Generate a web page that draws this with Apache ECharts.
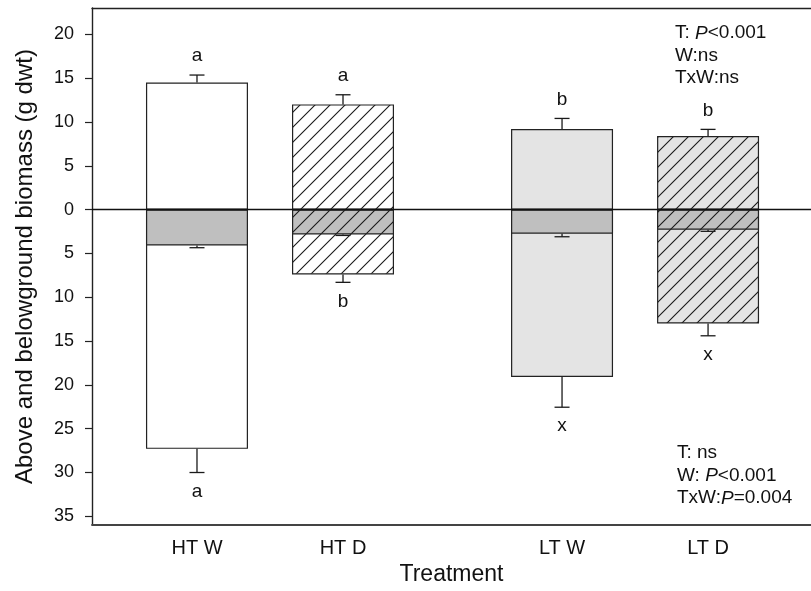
<!DOCTYPE html>
<html>
<head>
<meta charset="utf-8">
<script src="https://cdn.jsdelivr.net/npm/echarts@6/dist/echarts.min.js"></script>
<style>html,body{margin:0;padding:0;background:#fff}#c{width:811px;height:591px}</style>
</head>
<body>
<div id="c"></div>
<script>
// ---- data ----
const categories = ['HT W', 'HT D', 'LT W', 'LT D'];
const xPositions = [1, 2, 3.5, 4.5];
const aboveMean = [14.5, 12.0, 9.2, 8.4];
const aboveSE = [0.85, 1.1, 1.2, 0.75];
const belowMean = [27.3, 7.4, 19.1, 13.0];
const belowSE = [2.7, 0.9, 3.45, 1.4];
const belowTopMean = [4.1, 2.85, 2.75, 2.3];
const belowTopSE = [0.25, 0.1, 0.35, 0.18];
const aboveLetters = ['a', 'a', 'b', 'b'];
const belowLetters = ['a', 'b', 'x', 'x'];
const yTickValues = [-35, -30, -25, -20, -15, -10, -5, 0, 5, 10, 15, 20];
const hatched = [false, true, false, true];
const baseFill = ['#ffffff', '#ffffff', '#e4e4e4', '#e4e4e4'];
const topStatsText = 'T: {i|P}<0.001\nW:ns\nTxW:ns';
const bottomStatsText = 'T: ns\nW: {i|P}<0.001\nTxW:{i|P}=0.004';

const FONT = 'Liberation Sans, Arial, Helvetica, sans-serif';

function makePattern(bg) {
  const s = 15;
  const c = document.createElement('canvas');
  c.width = s; c.height = s;
  const g = c.getContext('2d');
  g.fillStyle = bg; g.fillRect(0, 0, s, s);
  g.strokeStyle = '#1a1a1a'; g.lineWidth = 1.1;
  g.beginPath();
  g.moveTo(-2, s + 2); g.lineTo(s + 2, -2);
  g.moveTo(-2, 2); g.lineTo(2, -2);
  g.moveTo(s - 2, s + 2); g.lineTo(s + 2, s - 2);
  g.stroke();
  return { image: c, repeat: 'repeat' };
}
function fillFor(i, bg) {
  return hatched[i] ? makePattern(bg) : bg;
}

const border = { borderColor: '#222', borderWidth: 1.2 };

const aboveData = categories.map((c, i) => ({ value: [xPositions[i], aboveMean[i]], itemStyle: Object.assign({ color: fillFor(i, baseFill[i]) }, border) }));
const belowData = categories.map((c, i) => ({ value: [xPositions[i], -belowMean[i]], itemStyle: Object.assign({ color: fillFor(i, baseFill[i]) }, border) }));
const belowTopData = categories.map((c, i) => ({ value: [xPositions[i], -belowTopMean[i]], itemStyle: Object.assign({ color: fillFor(i, '#bfbfbf') }, border) }));

function errSeries(means, ses, sign, letters) {
  return {
    type: 'custom',
    z: 5,
    data: categories.map((c, i) => [xPositions[i], sign * means[i], sign * (means[i] + ses[i])]),
    renderItem: function (params, api) {
      const p0 = api.coord([api.value(0), api.value(1)]);
      const p1 = api.coord([api.value(0), api.value(2)]);
      const hw = 7.5;
      const st = { stroke: '#1a1a1a', lineWidth: 1.3 };
      const children = [
        { type: 'line', shape: { x1: p0[0], y1: p0[1], x2: p1[0], y2: p1[1] }, style: st },
        { type: 'line', shape: { x1: p1[0] - hw, y1: p1[1], x2: p1[0] + hw, y2: p1[1] }, style: st }
      ];
      if (letters) {
        children.push({
          type: 'text',
          style: {
            text: letters[params.dataIndex],
            x: p1[0], y: p1[1] + (sign > 0 ? -19 : 19),
            align: 'center', verticalAlign: 'middle',
            fontSize: 19, fontFamily: FONT, fill: '#111'
          }
        });
      }
      return { type: 'group', children: children };
    }
  };
}

const chart = echarts.init(document.getElementById('c'), null, { renderer: 'canvas' });
const rich = { i: { fontStyle: 'italic', fontSize: 19, fontFamily: FONT, lineHeight: 22.5, fill: '#111' } };
chart.setOption({
  animation: false,
  textStyle: { fontFamily: FONT },
  grid: { left: 92, right: 0, top: 8, bottom: 63 },
  xAxis: [{
    type: 'value', min: 0.281, max: 5.205, position: 'bottom',
    axisLine: { show: true, onZero: false, lineStyle: { color: '#444', width: 1.8 } },
    axisTick: { show: false },
    splitLine: { show: false },
    axisLabel: {
      customValues: xPositions,
      formatter: function (v) {
        const k = xPositions.findIndex(p => Math.abs(p - v) < 1e-6);
        return k >= 0 ? categories[k] : '';
      },
      fontSize: 20, color: '#111', margin: 13
    },
    name: 'Treatment', nameLocation: 'middle', nameGap: 36,
    nameTextStyle: { fontSize: 23, color: '#111' }
  }, {
    type: 'value', position: 'top', min: 0.281, max: 5.205,
    axisLine: { show: true, onZero: false, lineStyle: { color: '#222', width: 1.4 } },
    axisTick: { show: false }, axisLabel: { show: false }, splitLine: { show: false }
  }],
  yAxis: {
    type: 'value', min: -36, max: 23,
    axisLine: { show: true, onZero: false, lineStyle: { color: '#222', width: 1.4 } },
    axisTick: { show: true, customValues: yTickValues, length: 7, lineStyle: { color: '#222', width: 1.2 } },
    splitLine: { show: false },
    axisLabel: {
      customValues: yTickValues,
      formatter: function (v) { return String(Math.abs(v)); },
      fontSize: 18, color: '#111', margin: 18
    },
    name: 'Above and belowground biomass (g dwt)', nameLocation: 'middle', nameGap: 55,
    nameTextStyle: { fontSize: 24, color: '#111' }
  },
  series: [
    {
      type: 'bar', name: 'Belowground', data: belowData, barWidth: 102, barGap: '-100%', z: 2,
      markLine: {
        silent: true, symbol: 'none', label: { show: false },
        lineStyle: { color: '#111', width: 1.3, type: 'solid' },
        data: [{ yAxis: 0 }]
      }
    },
    { type: 'bar', name: 'Belowground top', data: belowTopData, barWidth: 102, barGap: '-100%', z: 3 },
    { type: 'bar', name: 'Aboveground', data: aboveData, barWidth: 102, barGap: '-100%', z: 3 },
    errSeries(aboveMean, aboveSE, 1, aboveLetters),
    errSeries(belowMean, belowSE, -1, belowLetters),
    errSeries(belowTopMean, belowTopSE, -1, null)
  ],
  graphic: [
    {
      type: 'text', left: 675, top: 22,
      style: { text: topStatsText, fontSize: 19, fontFamily: FONT, lineHeight: 22.5, fill: '#111', rich: rich }
    },
    {
      type: 'text', left: 677, top: 442,
      style: { text: bottomStatsText, fontSize: 19, fontFamily: FONT, lineHeight: 22.5, fill: '#111', rich: rich }
    }
  ]
});
</script>
</body>
</html>
